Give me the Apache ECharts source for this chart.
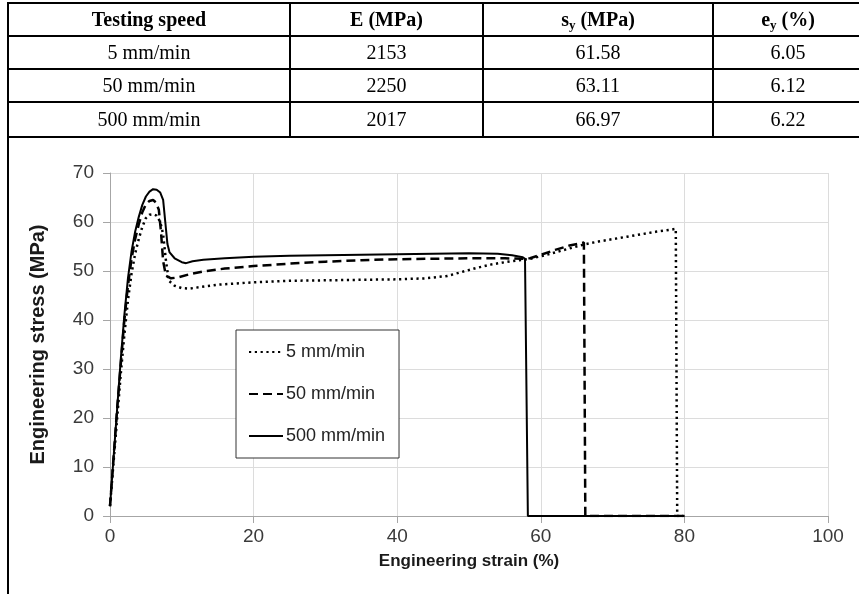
<!DOCTYPE html>
<html>
<head>
<meta charset="utf-8">
<script src="https://cdn.jsdelivr.net/npm/echarts@6/dist/echarts.min.js"></script>
<style>
html,body{margin:0;padding:0;background:#fff;}
body{width:859px;height:594px;overflow:hidden;position:relative;}
#chart{position:absolute;left:0;top:0;width:859px;height:594px;}
#tbl{position:absolute;left:7px;top:2px;width:855px;border-collapse:collapse;font-family:"Liberation Serif","Times New Roman",serif;font-size:20px;color:#000;table-layout:fixed;}
#tbl td,#tbl th{border:2px solid #000;text-align:center;padding:0;background:#fff;}
#tbl th{font-weight:bold;}
#tbl sub{font-size:13px;vertical-align:-3px;line-height:0;}
#cell{position:absolute;left:7px;top:137px;width:900px;height:500px;border-left:2px solid #000;pointer-events:none;}
</style>
</head>
<body>
<div id="chart"></div>
<table id="tbl">
<colgroup><col style="width:282px"><col style="width:193px"><col style="width:230px"><col style="width:150px"></colgroup>
<tr style="height:33px"><th>Testing speed</th><th>E (MPa)</th><th>s<sub>y</sub> (MPa)</th><th>e<sub>y</sub> (%)</th></tr>
<tr style="height:33px"><td>5 mm/min</td><td>2153</td><td>61.58</td><td>6.05</td></tr>
<tr style="height:33px"><td>50 mm/min</td><td>2250</td><td>63.11</td><td>6.12</td></tr>
<tr style="height:35px"><td>500 mm/min</td><td>2017</td><td>66.97</td><td>6.22</td></tr>
</table>
<div id="cell"></div>
<script>
// Series names
const seriesNames = ['5 mm/min', '50 mm/min', '500 mm/min'];

// 5 mm/min (dotted)
const strain5 = [0,0.5,1,1.5,2,2.5,3,3.5,4,4.5,5,5.5,6,6.5,7,7.4,7.8,8.2,9,10,11,12,15,20,25,30,35,40,44,47,49,51,53,55,57,58.5,60,62,64,66,68,70,72,74,76,78,78.8,79,80];
const stress5 = [2,11,20,29,37,44,49.5,53.5,56.5,59,60.8,61.5,61.6,61.3,60,57.5,52,48,47,46.5,46.4,46.6,47.2,47.7,48,48.1,48.2,48.3,48.5,49,49.8,50.6,51.3,51.8,52.2,52.5,53,53.8,54.6,55.4,56,56.5,57,57.5,58,58.4,58.6,0,0];

// 50 mm/min (dashed)
const strain50 = [0,0.5,1,1.5,2,2.5,3,3.5,4,4.5,5,5.5,6,6.4,6.8,7.1,7.4,7.8,8.5,9.5,11,13,16,20,25,30,35,40,45,50,55,57.5,58.5,60,62,64,66,66.2,80];
const stress50 = [2,12,22,31,40,47,52.5,56.5,59.5,62,63.6,64.3,64.5,64,62.5,58,52,49,48.5,48.7,49.3,49.9,50.5,51,51.5,51.9,52.2,52.4,52.5,52.6,52.6,52.5,52.6,53.3,54.3,55.2,55.8,0,0];

// 500 mm/min (solid)
const strain500 = [0,0.5,1,1.5,2,2.5,3,3.5,4,4.5,5,5.5,6,6.5,7,7.4,7.7,8,8.3,9,10,10.6,11.5,13,16,20,25,30,35,40,45,50,54,56,57.5,57.8,58.2,80];
const stress500 = [2,12,22,32,41,48.5,54,58,61,63.5,65.2,66.2,66.7,66.6,66,64.5,60,55.5,53.8,52.6,51.8,51.6,52,52.3,52.6,52.9,53.1,53.2,53.3,53.4,53.5,53.6,53.5,53.2,52.8,52.5,0,0];

function pairs(xs, ys){ return xs.map((x,i)=>[x, ys[i]]); }

const chart = echarts.init(document.getElementById('chart'), null, {renderer:'canvas'});
const FONT = 'Liberation Sans, Arial, sans-serif';
const axisFont = {fontFamily:FONT, fontSize:19, color:'#3a3a3a'};
chart.setOption({
  animation:false,
  backgroundColor:'#fff',
  grid:{left:110, right:31, top:173, bottom:78, containLabel:false},
  legend:{
    orient:'vertical', left:236, top:330,
    itemWidth:34, itemHeight:14, itemGap:24,
    padding:[13,14,13,12],
    borderColor:'#333', borderWidth:1, backgroundColor:'#fff',
    itemStyle:{opacity:0},
    textStyle:{fontFamily:FONT, fontSize:18, color:'#222', padding:[0,0,0,-2]},
    data:seriesNames
  },
  xAxis:{
    type:'value', min:0, max:100, interval:20,
    name:'Engineering strain (%)', nameLocation:'middle', nameGap:37,
    nameTextStyle:{fontFamily:FONT, fontSize:17, fontWeight:'bold', color:'#1a1a1a'},
    axisLine:{show:true, lineStyle:{color:'#a6a6a6', width:1}},
    axisTick:{show:true, length:7, lineStyle:{color:'#a6a6a6'}},
    axisLabel:Object.assign({margin:11}, axisFont),
    splitLine:{show:true, lineStyle:{color:'#dcdcdc', width:1}}
  },
  yAxis:{
    type:'value', min:0, max:70, interval:10,
    name:'Engineering stress (MPa)', nameLocation:'middle', nameGap:62,
    nameTextStyle:{fontFamily:FONT, fontSize:20, fontWeight:'bold', color:'#1a1a1a'},
    axisLine:{show:true, lineStyle:{color:'#a6a6a6', width:1}},
    axisTick:{show:true, length:7, lineStyle:{color:'#a6a6a6'}},
    axisLabel:Object.assign({margin:16}, axisFont),
    splitLine:{show:true, lineStyle:{color:'#dcdcdc', width:1}}
  },
  series:[
    {name:seriesNames[0], type:'line', symbol:'none', data:pairs(strain5, stress5),
     lineStyle:{color:'#000', width:2.5, type:[2.2,3.6], cap:'butt'}, itemStyle:{color:'#000'}, z:3},
    {name:seriesNames[1], type:'line', symbol:'none', data:pairs(strain50, stress50),
     lineStyle:{color:'#000', width:2.5, type:[9,5]}, itemStyle:{color:'#000'}, z:4},
    {name:seriesNames[2], type:'line', symbol:'none', data:pairs(strain500, stress500),
     lineStyle:{color:'#000', width:2}, itemStyle:{color:'#000'}, z:5}
  ]
});
</script>
</body>
</html>
